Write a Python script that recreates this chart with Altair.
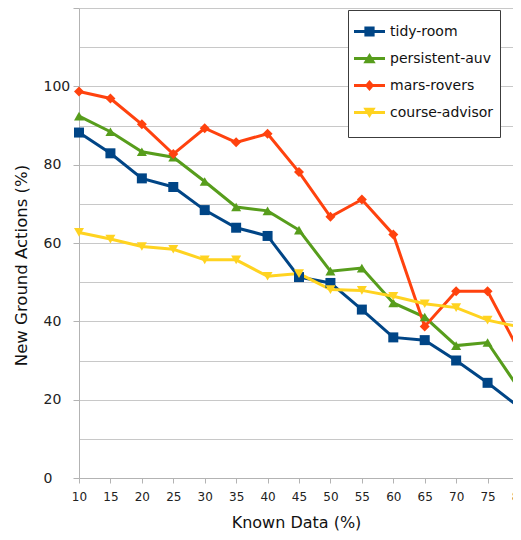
import altair as alt
import pandas as pd

known = [10, 15, 20, 25, 30, 35, 40, 45, 50, 55, 60, 65, 70, 75, 80]
tidy_room = [88.2, 82.9, 76.5, 74.3, 68.4, 63.9, 61.8, 51.3, 49.8, 43.0, 35.9, 35.2, 30.0, 24.3, 18.1]
persistent_auv = [92.4, 88.4, 83.3, 81.9, 75.7, 69.2, 68.2, 63.3, 52.8, 53.6, 44.7, 41.1, 33.8, 34.6, 22.8]
mars_rovers = [98.7, 96.9, 90.3, 82.7, 89.3, 85.7, 87.9, 78.1, 66.7, 71.1, 62.2, 38.7, 47.7, 47.7, 32.5]
course_advisor = [62.7, 61.0, 59.1, 58.4, 55.7, 55.7, 51.5, 52.2, 48.1, 47.9, 46.4, 44.5, 43.5, 40.3, 38.6]

series_names = ["tidy-room", "persistent-auv", "mars-rovers", "course-advisor"]
series_values = [tidy_room, persistent_auv, mars_rovers, course_advisor]
colors = ["#004586", "#579d1c", "#ff420e", "#ffd320"]
marker_shapes = ["square", "triangle-up", "diamond", "triangle-down"]
legend_paths = [
    "M-1,-0.1H1V0.1H-1Z M-0.33,-0.33H0.33V0.33H-0.33Z",
    "M-1,-0.1H1V0.1H-1Z M0,-0.36L0.4,0.3H-0.4Z",
    "M-1,-0.1H1V0.1H-1Z M0,-0.36L0.3,0L0,0.36L-0.3,0Z",
    "M-1,-0.1H1V0.1H-1Z M-0.4,-0.3H0.4L0,0.36Z",
]
y_grid_values = [0, 10, 20, 30, 40, 50, 60, 70, 80, 90, 100, 110, 120]

rows = []
for name, vals in zip(series_names, series_values):
    for k, v in zip(known, vals):
        rows.append({"known": k, "series": name, "value": v})
df = pd.DataFrame(rows)

FONT = "DejaVu Sans"

x_enc = alt.X(
    "known:Q",
    scale=alt.Scale(domain=[10, 80], nice=False, zero=False, range=[0, 440]),
    axis=alt.Axis(
        values=known, grid=False, title="Known Data (%)",
        domainColor="#b3b3b3", tickColor="#b3b3b3", tickSize=5,
        labelFont=FONT, labelFontSize=12, labelColor="#222222", labelPadding=8,
        labelFlush=False, labelOverlap=False,
        titleFont=FONT, titleFontSize=16, titleFontWeight="normal", titleColor="#111111",
        titleX=217, titleY=44, titleBaseline="middle", titleAlign="center",
    ),
)
y_enc = alt.Y(
    "value:Q",
    scale=alt.Scale(domain=[0, 120], nice=False),
    axis=alt.Axis(
        values=y_grid_values, grid=True, gridColor="#c8c8c8", gridWidth=1,
        domainColor="#b3b3b3", tickColor="#b3b3b3", tickSize=6,
        tickOpacity={"condition": {"test": "datum.value % 20 !== 0", "value": 0}, "value": 1},
        labelExpr="(datum.value % 20 === 0 && datum.value < 120) ? datum.label : ''",
        labelAlign="left", labelPadding=30, labelBaseline="middle",
        labelFont=FONT, labelFontSize=14, labelColor="#222222",
        title="New Ground Actions (%)",
        titleFont=FONT, titleFontSize=16.5, titleFontWeight="normal", titleColor="#111111",
        titleAngle=270, titleX=-58, titleY=257, titleBaseline="middle", titleAlign="center",
    ),
)

color_scale = alt.Scale(domain=series_names, range=colors)
shape_scale = alt.Scale(domain=series_names, range=legend_paths)
legend_label_expr = "datum.label + '\u00a0\u00a0\u00a0\u00a0\u00a0\u00a0\u00a0\u00a0'"
shared_legend = alt.Legend(title="\u00a0", titleOrient="bottom", labelExpr=legend_label_expr)

legend_layer = alt.Chart(df).transform_filter("datum.value < -1000").mark_point(filled=True, opacity=1).encode(
    x=x_enc, y=y_enc,
    color=alt.Color("series:N", scale=color_scale, legend=shared_legend),
    shape=alt.Shape("series:N", scale=shape_scale, legend=shared_legend),
)

lines = alt.Chart(df).mark_line(strokeWidth=3).encode(
    x=x_enc, y=y_enc,
    color=alt.Color("series:N", scale=color_scale, legend=shared_legend),
    order=alt.Order("known:Q"),
)

point_layers = []
for name, shp in zip(series_names, marker_shapes):
    point_layers.append(
        alt.Chart(df).transform_filter(alt.datum.series == name)
        .mark_point(filled=True, opacity=1, size=100, shape=shp)
        .encode(
            x=x_enc, y=y_enc,
            color=alt.Color("series:N", scale=color_scale, legend=shared_legend),
        )
    )

chart = alt.layer(legend_layer, lines, *point_layers).properties(
    width=434, height=470,
    autosize=alt.AutoSizeParams(type="none"),
    padding={"left": 71, "top": 0, "right": 0, "bottom": 53},
).configure_view(stroke=None).configure_legend(
    orient="none", legendX=269, legendY=2,
    fillColor="white", strokeColor="#3c3c3c", padding=6,
    symbolSize=961, symbolStrokeWidth=0, symbolOpacity=1,
    labelFont=FONT, labelFontSize=14, labelColor="#111111",
    labelOffset=5, rowPadding=4,
    titleFontSize=9, titlePadding=2,
)

chart.save("out.html", embed_options={"renderer": "svg", "actions": False})
